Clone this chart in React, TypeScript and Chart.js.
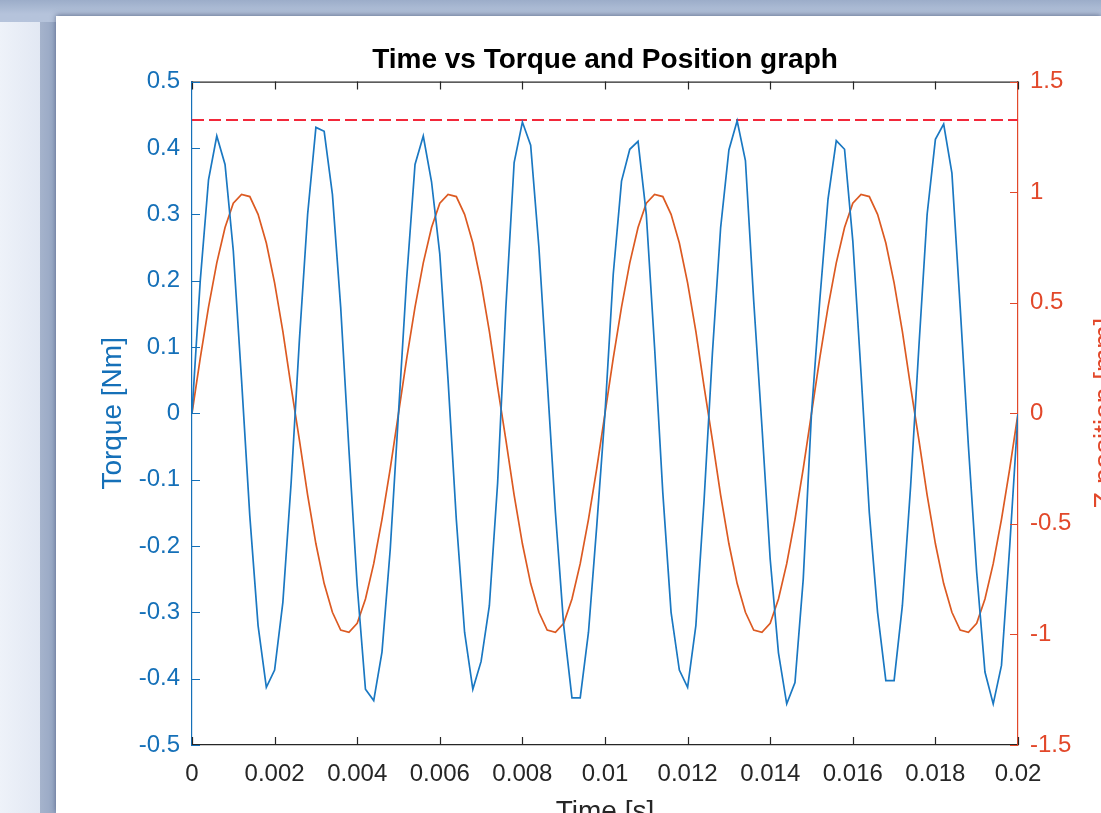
import React, { useEffect, useRef } from "react";
import { Chart, registerables } from "chart.js";

Chart.register(...registerables);

// ---------------- data ----------------
const TITLE = "Time vs Torque and Position graph";
const X_LABEL = "Time [s]";
const Y_LEFT_LABEL = "Torque [Nm]";
const Y_RIGHT_LABEL = "Z position [mm]";

const TIME = [
  0, 0.0002, 0.0004, 0.0006, 0.0008, 0.001, 0.0012, 0.0014, 0.0016, 0.0018,
  0.002, 0.0022, 0.0024, 0.0026, 0.0028, 0.003, 0.0032, 0.0034, 0.0036, 0.0038,
  0.004, 0.0042, 0.0044, 0.0046, 0.0048, 0.005, 0.0052, 0.0054, 0.0056, 0.0058,
  0.006, 0.0062, 0.0064, 0.0066, 0.0068, 0.007, 0.0072, 0.0074, 0.0076, 0.0078,
  0.008, 0.0082, 0.0084, 0.0086, 0.0088, 0.009, 0.0092, 0.0094, 0.0096, 0.0098,
  0.01, 0.0102, 0.0104, 0.0106, 0.0108, 0.011, 0.0112, 0.0114, 0.0116, 0.0118,
  0.012, 0.0122, 0.0124, 0.0126, 0.0128, 0.013, 0.0132, 0.0134, 0.0136, 0.0138,
  0.014, 0.0142, 0.0144, 0.0146, 0.0148, 0.015, 0.0152, 0.0154, 0.0156, 0.0158,
  0.016, 0.0162, 0.0164, 0.0166, 0.0168, 0.017, 0.0172, 0.0174, 0.0176, 0.0178,
  0.018, 0.0182, 0.0184, 0.0186, 0.0188, 0.019, 0.0192, 0.0194, 0.0196, 0.0198,
  0.02,
];

const TORQUE = [
  0.0, 0.2, 0.352, 0.418, 0.375, 0.245, 0.05, -0.155, -0.32, -0.413,
  -0.387, -0.285, -0.105, 0.11, 0.3, 0.431, 0.425, 0.33, 0.16, -0.055,
  -0.26, -0.416, -0.433, -0.36, -0.205, 0.0, 0.205, 0.375, 0.418, 0.349,
  0.24, 0.05, -0.16, -0.33, -0.416, -0.374, -0.29, -0.105, 0.16, 0.378,
  0.439, 0.404, 0.25, 0.05, -0.15, -0.32, -0.429, -0.429, -0.33, -0.17,
  0.0, 0.21, 0.35, 0.398, 0.41, 0.3, 0.1, -0.12, -0.3, -0.387,
  -0.413, -0.32, -0.13, 0.09, 0.28, 0.397, 0.441, 0.381, 0.17, -0.02,
  -0.22, -0.361, -0.438, -0.406, -0.25, 0.0, 0.17, 0.323, 0.411, 0.398,
  0.26, 0.06, -0.15, -0.3, -0.403, -0.403, -0.29, -0.11, 0.1, 0.3,
  0.413, 0.436, 0.362, 0.16, -0.05, -0.24, -0.39, -0.438, -0.38, -0.2,
  0.0,
];

const POSITION = [
  0, 0.25, 0.48, 0.68, 0.84, 0.95, 0.99, 0.98, 0.9, 0.77,
  0.59, 0.37, 0.12, -0.12, -0.37, -0.59, -0.77, -0.9, -0.98, -0.99,
  -0.95, -0.84, -0.68, -0.48, -0.25, 0, 0.25, 0.48, 0.68, 0.84,
  0.95, 0.99, 0.98, 0.9, 0.77, 0.59, 0.37, 0.12, -0.12, -0.37,
  -0.59, -0.77, -0.9, -0.98, -0.99, -0.95, -0.84, -0.68, -0.48, -0.25,
  0, 0.25, 0.48, 0.68, 0.84, 0.95, 0.99, 0.98, 0.9, 0.77,
  0.59, 0.37, 0.12, -0.12, -0.37, -0.59, -0.77, -0.9, -0.98, -0.99,
  -0.95, -0.84, -0.68, -0.48, -0.25, 0, 0.25, 0.48, 0.68, 0.84,
  0.95, 0.99, 0.98, 0.9, 0.77, 0.59, 0.37, 0.12, -0.12, -0.37,
  -0.59, -0.77, -0.9, -0.98, -0.99, -0.95, -0.84, -0.68, -0.48, -0.25,
  0,
];

const MAX_TORQUE_LINE = [0.442, 0.442];
const MAX_LINE_TIME = [0, 0.02];

const X_TICKS = [0, 0.002, 0.004, 0.006, 0.008, 0.01, 0.012, 0.014, 0.016, 0.018, 0.02];
const X_TICK_LABELS = ["0", "0.002", "0.004", "0.006", "0.008", "0.01", "0.012", "0.014", "0.016", "0.018", "0.02"];
const YL_TICKS = [-0.5, -0.4, -0.3, -0.2, -0.1, 0, 0.1, 0.2, 0.3, 0.4, 0.5];
const YL_TICK_LABELS = ["-0.5", "-0.4", "-0.3", "-0.2", "-0.1", "0", "0.1", "0.2", "0.3", "0.4", "0.5"];
const YR_TICKS = [-1.5, -1, -0.5, 0, 0.5, 1, 1.5];
const YR_TICK_LABELS = ["-1.5", "-1", "-0.5", "0", "0.5", "1", "1.5"];

// ---------------- style ----------------
const W = 1101;
const H = 813;
const FONT = "'Liberation Sans', Arial, Helvetica, sans-serif";
const BLUE = "#1a78c2";
const BLUE_AXIS = "#1570b8";
const ORANGE = "#dc5a22";
const ORANGE_AXIS = "#e2482a";
const RED = "#f2283a";
const BLACK = "#262626";
const TICK_LEN = 8;

const matlabAxesPlugin = {
  id: "matlabAxes",
  afterDatasetsDraw(chart: any) {
    const { ctx, chartArea: a, scales } = chart;
    ctx.save();
    ctx.lineWidth = 1.2;
    // top box line
    ctx.strokeStyle = BLACK;
    ctx.beginPath();
    ctx.moveTo(a.left, a.top + 0.5);
    ctx.lineTo(a.right, a.top + 0.5);
    ctx.stroke();
    // x ticks (bottom and top, inward)
    const xs = scales.x;
    ctx.beginPath();
    for (const v of X_TICKS) {
      const px = Math.round(xs.getPixelForValue(v)) + 0.5;
      ctx.moveTo(px, a.bottom);
      ctx.lineTo(px, a.bottom - TICK_LEN);
      ctx.moveTo(px, a.top);
      ctx.lineTo(px, a.top + TICK_LEN);
    }
    ctx.stroke();
    // left ticks
    const yl = scales.yL;
    ctx.strokeStyle = BLUE_AXIS;
    ctx.beginPath();
    for (const v of YL_TICKS) {
      const py = Math.round(yl.getPixelForValue(v)) + 0.5;
      ctx.moveTo(a.left, py);
      ctx.lineTo(a.left + TICK_LEN, py);
    }
    ctx.stroke();
    // right ticks
    const yr = scales.yR;
    ctx.strokeStyle = ORANGE_AXIS;
    ctx.beginPath();
    for (const v of YR_TICKS) {
      const py = Math.round(yr.getPixelForValue(v)) + 0.5;
      ctx.moveTo(a.right, py);
      ctx.lineTo(a.right - TICK_LEN, py);
    }
    ctx.stroke();
    // right axis title (reads bottom to top, like the left one)
    ctx.fillStyle = ORANGE_AXIS;
    ctx.font = `28px ${FONT}`;
    ctx.textAlign = "center";
    ctx.textBaseline = "middle";
    ctx.translate(a.right + 87, (a.top + a.bottom) / 2);
    ctx.rotate(-Math.PI / 2);
    ctx.fillText(Y_RIGHT_LABEL, 0, 0);
    ctx.restore();
  },
};

export default function App() {
  const ref = useRef<HTMLCanvasElement | null>(null);

  useEffect(() => {
    if (!ref.current) return;
    const tickFont = { family: FONT, size: 24 };
    const chart = new Chart(ref.current, {
      type: "line",
      data: {
        datasets: [
          {
            label: "Torque",
            data: TIME.map((t, i) => ({ x: t, y: TORQUE[i] })),
            yAxisID: "yL",
            borderColor: BLUE,
            borderWidth: 1.7,
            pointRadius: 0,
            tension: 0,
          },
          {
            label: "Position",
            data: TIME.map((t, i) => ({ x: t, y: POSITION[i] })),
            yAxisID: "yR",
            borderColor: ORANGE,
            borderWidth: 1.7,
            pointRadius: 0,
            tension: 0,
          },
          {
            label: "Max torque",
            data: MAX_LINE_TIME.map((t, i) => ({ x: t, y: MAX_TORQUE_LINE[i] })),
            yAxisID: "yL",
            borderColor: RED,
            borderWidth: 2,
            borderDash: [12, 5],
            pointRadius: 0,
          },
        ],
      },
      options: {
        responsive: false,
        maintainAspectRatio: false,
        animation: false,
        layout: { padding: 0 },
        plugins: {
          legend: { display: false },
          tooltip: { enabled: false },
          title: {
            display: true,
            fullSize: false,
            text: TITLE,
            color: "#000",
            font: { family: FONT, size: 28, weight: "bold" },
            padding: { top: 43.4, bottom: 4.6 },
          },
        },
        scales: {
          x: {
            type: "linear",
            position: "bottom",
            min: 0,
            max: 0.02,
            afterBuildTicks: (s: any) => {
              s.ticks = X_TICKS.map((v) => ({ value: v }));
            },
            afterFit: (s: any) => {
              s.height = 68;
            },
            ticks: {
              callback: (_v: any, i: number) => X_TICK_LABELS[i],
              font: tickFont,
              color: BLACK,
              padding: 15,
              maxRotation: 0,
              autoSkip: false,
            },
            grid: { display: false, drawTicks: false },
            border: { display: true, color: BLACK, width: 1.2 },
            title: {
              display: true,
              text: X_LABEL,
              color: BLACK,
              font: { family: FONT, size: 28 },
              padding: { top: 0, bottom: -16 },
            },
          },
          yL: {
            type: "linear",
            position: "left",
            min: -0.5,
            max: 0.5,
            afterBuildTicks: (s: any) => {
              s.ticks = YL_TICKS.map((v) => ({ value: v }));
            },
            afterFit: (s: any) => {
              s.width = 192;
            },
            ticks: {
              callback: (_v: any, i: number) => YL_TICK_LABELS[i],
              font: tickFont,
              color: BLUE_AXIS,
              padding: 12,
              autoSkip: false,
            },
            grid: { display: false, drawTicks: false },
            border: { display: true, color: BLUE_AXIS, width: 1.2 },
            title: {
              display: true,
              text: Y_LEFT_LABEL,
              color: BLUE_AXIS,
              font: { family: FONT, size: 28 },
              padding: { top: 96, bottom: 0 },
            },
          },
          yR: {
            type: "linear",
            position: "right",
            min: -1.5,
            max: 1.5,
            afterBuildTicks: (s: any) => {
              s.ticks = YR_TICKS.map((v) => ({ value: v }));
            },
            afterFit: (s: any) => {
              s.width = 83;
            },
            ticks: {
              callback: (_v: any, i: number) => YR_TICK_LABELS[i],
              font: tickFont,
              color: ORANGE_AXIS,
              padding: 12,
              autoSkip: false,
            },
            grid: { display: false, drawTicks: false },
            border: { display: true, color: ORANGE_AXIS, width: 1.2 },
          },
        },
      } as any,
      plugins: [matlabAxesPlugin],
    });
    return () => chart.destroy();
  }, []);

  return (
    <div
      style={{
        position: "fixed",
        left: 0,
        top: 0,
        width: W,
        height: H,
        overflow: "hidden",
        background: "linear-gradient(180deg, #9cadc9 0px, #b5c3db 14px, #c3cfe3 100%)",
      }}
    >
      <div
        style={{
          position: "absolute",
          left: 0,
          top: 22,
          width: 40,
          bottom: 0,
          background: "linear-gradient(90deg, #eef2f9 0%, #e2e8f3 100%)",
        }}
      />
      <div
        style={{
          position: "absolute",
          left: 40,
          top: 22,
          width: 16,
          bottom: 0,
          background: "linear-gradient(90deg, #a5b3cc 0%, #96a6c3 100%)",
        }}
      />
      <div
        style={{
          position: "absolute",
          left: 56,
          top: 16,
          right: 0,
          bottom: 0,
          background: "#ffffff",
          boxShadow: "0 -1px 5px rgba(40,55,90,0.55)",
        }}
      />
      <canvas
        ref={ref}
        width={W}
        height={H}
        style={{ position: "absolute", left: 0, top: 0, width: W, height: H }}
      />
    </div>
  );
}
